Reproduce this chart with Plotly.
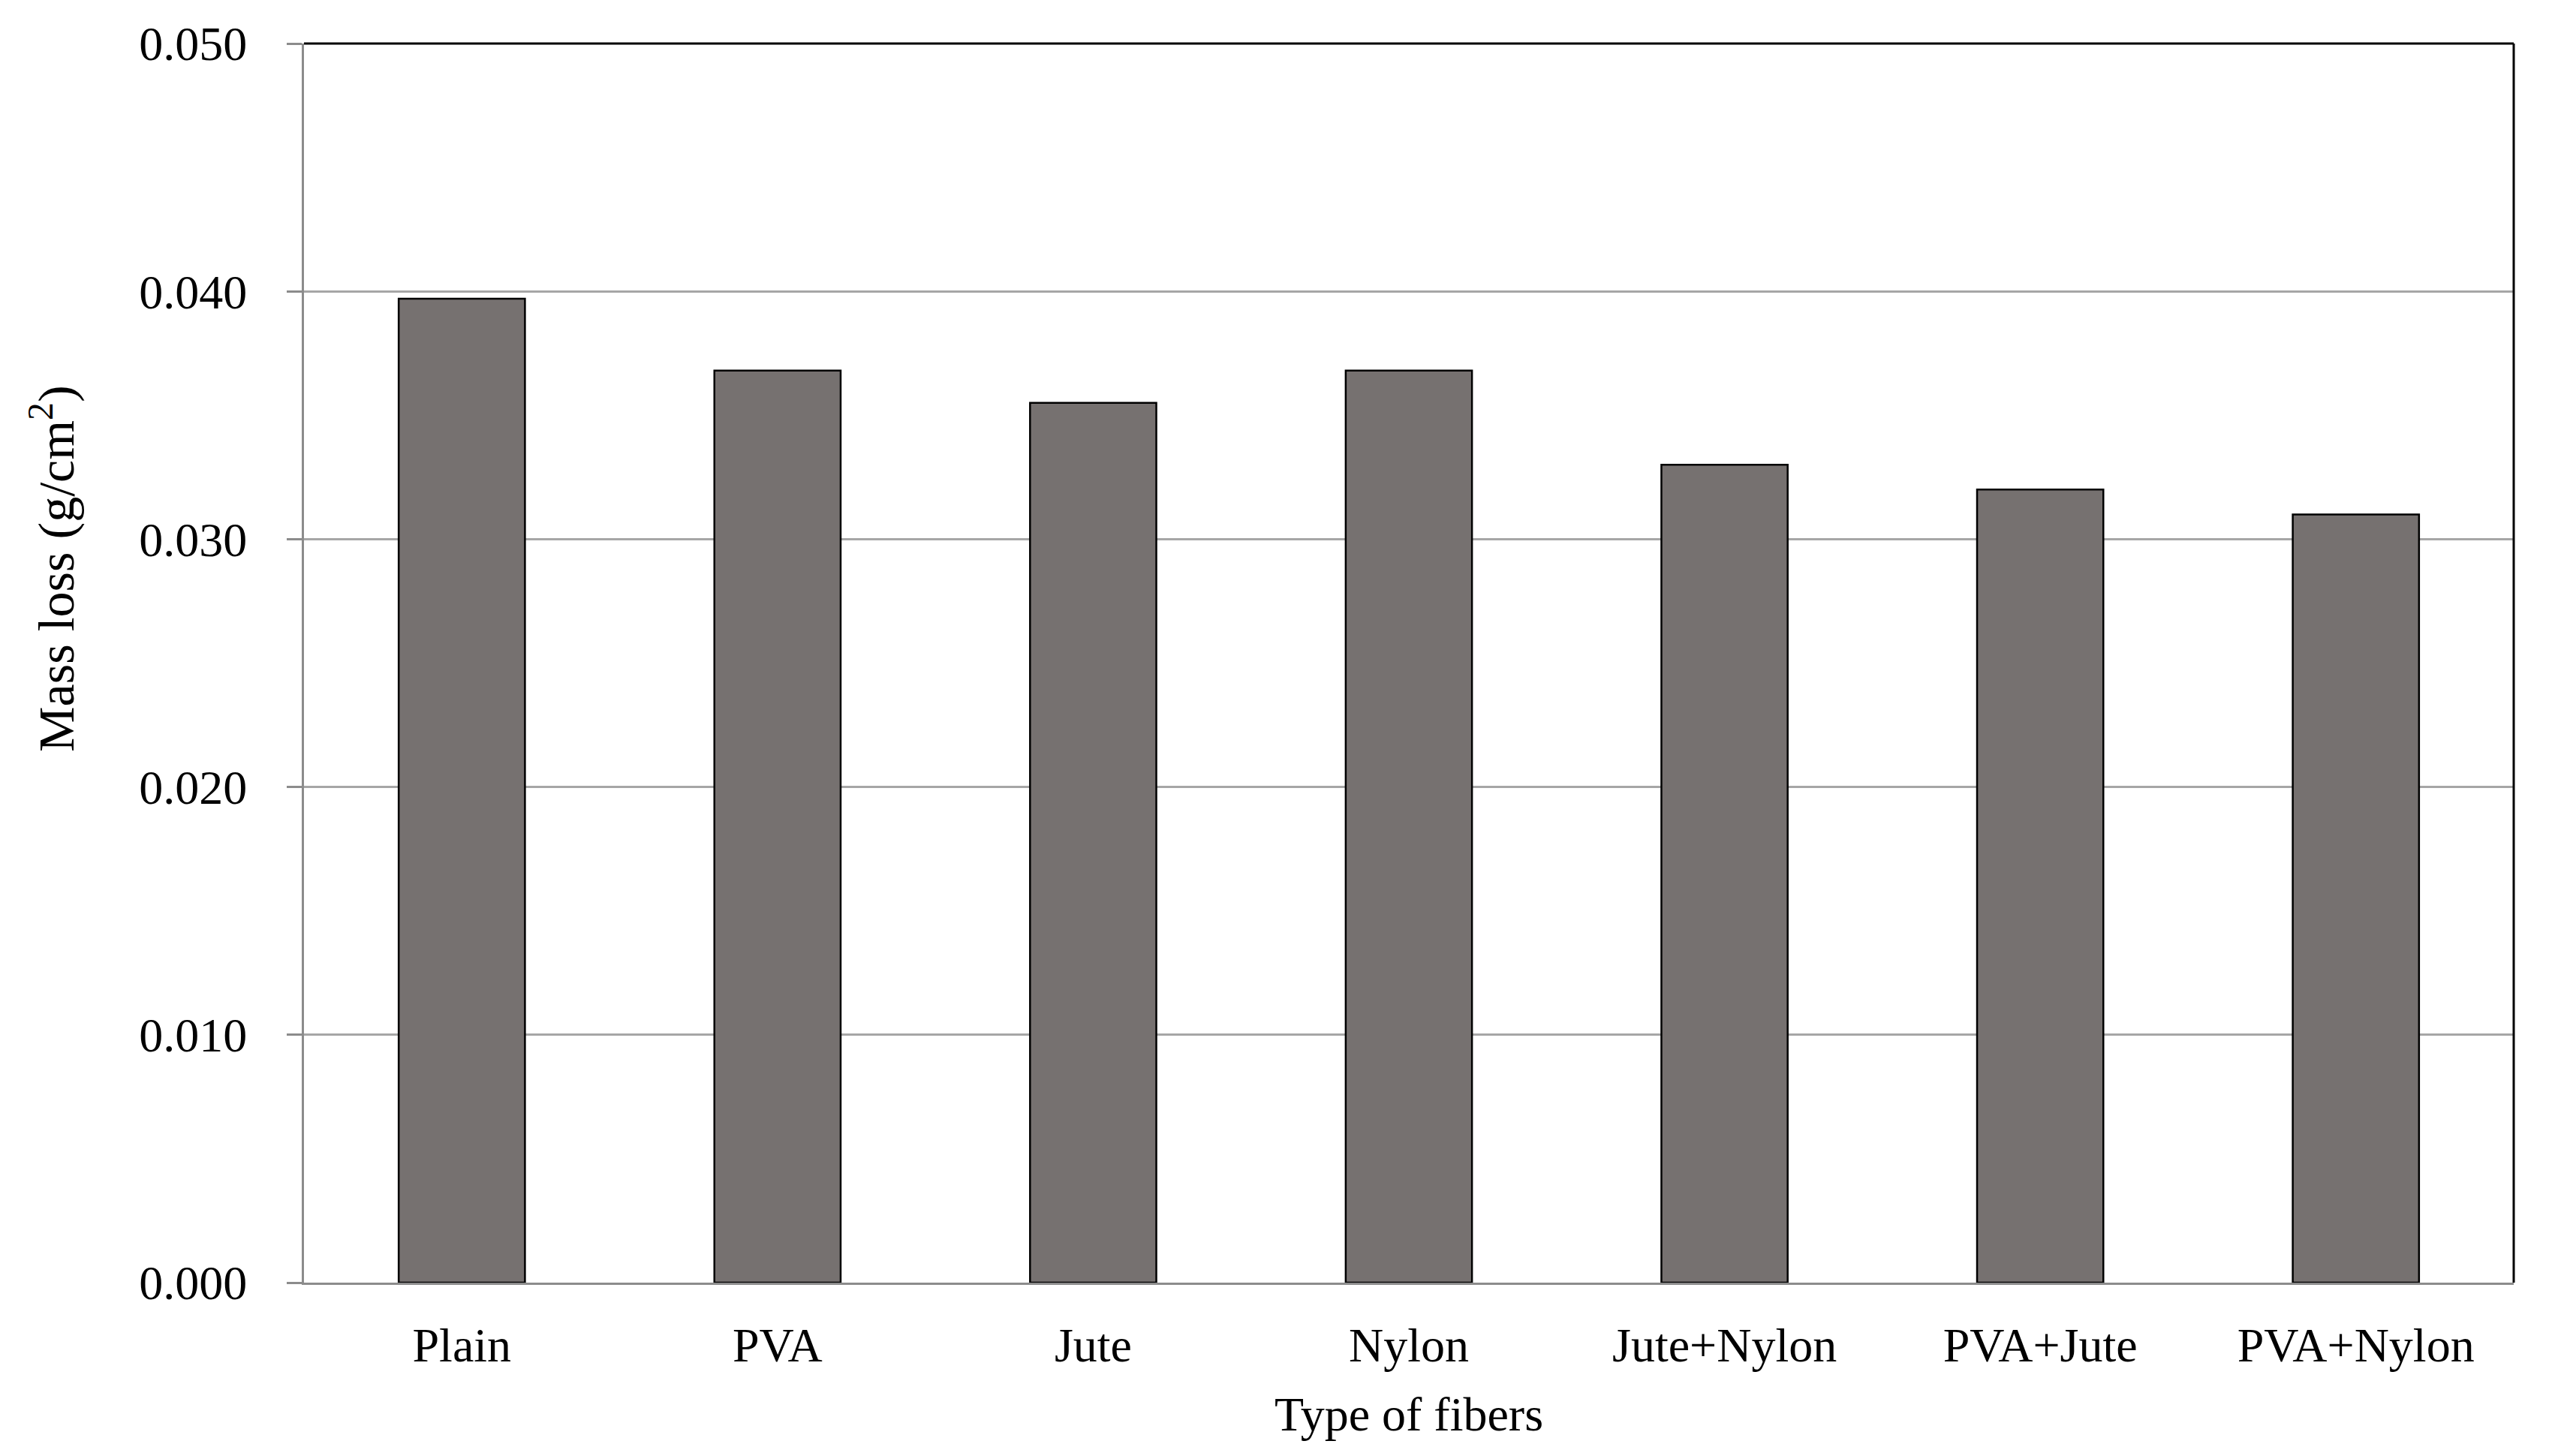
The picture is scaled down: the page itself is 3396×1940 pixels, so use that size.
import plotly.graph_objects as go

categories = ["Plain", "PVA", "Jute", "Nylon", "Jute+Nylon", "PVA+Jute", "PVA+Nylon"]
mass_loss = [0.0397, 0.0368, 0.0355, 0.0368, 0.0330, 0.0320, 0.0310]
y_ticks = [0.000, 0.010, 0.020, 0.030, 0.040, 0.050]
y_tick_labels = ["0.000", "0.010", "0.020", "0.030", "0.040", "0.050"]

FONT = "Liberation Serif, Times New Roman, serif"
FS = 64

fig = go.Figure()
fig.add_trace(go.Bar(
    x=categories,
    y=mass_loss,
    marker=dict(color="#767170", line=dict(color="#000000", width=2.5)),
))

fig.update_layout(
    width=3396,
    height=1940,
    paper_bgcolor="white",
    plot_bgcolor="white",
    margin=dict(l=397, r=55, t=50, b=239),
    bargap=0.6,
    showlegend=False,
    font=dict(family=FONT, size=FS, color="#000000"),
    xaxis=dict(
        showline=True,
        linecolor="#8c8c8c",
        linewidth=3,
        ticks="",
        showgrid=False,
        tickfont=dict(family=FONT, size=FS),
        ticklabelstandoff=25,
    ),
    yaxis=dict(
        range=[0, 0.050],
        tickvals=y_ticks,
        ticktext=y_tick_labels,
        showline=True,
        linecolor="#8c8c8c",
        linewidth=3,
        ticks="outside",
        ticklen=20,
        tickwidth=3,
        tickcolor="#8c8c8c",
        showgrid=True,
        gridcolor="#a6a6a6",
        gridwidth=3,
        zeroline=False,
        tickfont=dict(family=FONT, size=FS),
        ticklabelstandoff=40,
    ),
    annotations=[
        dict(
            text="Mass loss (g/cm<sup>2</sup>)",
            xref="paper", yref="paper",
            x=-0.1135, y=0.576,
            xanchor="center", yanchor="middle",
            textangle=-90,
            showarrow=False,
            font=dict(family=FONT, size=68),
        ),
        dict(
            text="Type of fibers",
            xref="paper", yref="paper",
            x=0.5, y=-0.106,
            xanchor="center", yanchor="middle",
            showarrow=False,
            font=dict(family=FONT, size=FS),
        ),
    ],
    shapes=[
        dict(type="line", xref="paper", yref="paper", x0=0, x1=1, y0=1, y1=1,
             line=dict(color="#000000", width=3)),
        dict(type="line", xref="paper", yref="paper", x0=1, x1=1, y0=0, y1=1,
             line=dict(color="#000000", width=3)),
    ],
)

fig.write_html("out.html")
